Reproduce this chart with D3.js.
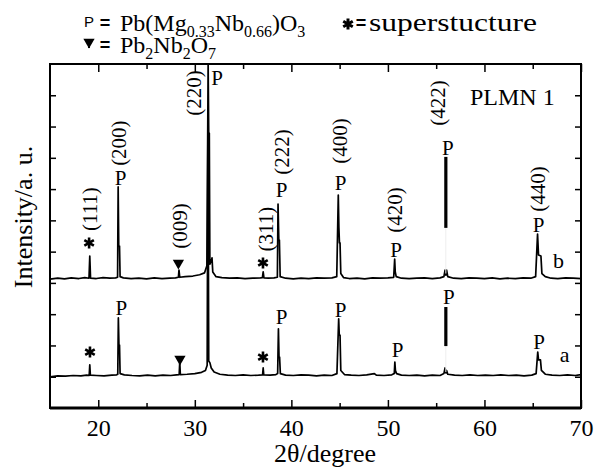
<!DOCTYPE html>
<html>
<head>
<meta charset="utf-8">
<script src="https://cdn.jsdelivr.net/npm/d3@7"></script>
<style>
  body { margin: 0; background: #fff; }
  svg { display: block; }
</style>
</head>
<body>
<svg id="chart"></svg>
<script>
// 2θ range and the arbitrary intensity range of the stacked patterns
const X_DOMAIN = [15, 70];
const Y_DOMAIN = [0, 11];
const X_MAJOR = [20, 30, 40, 50, 60, 70];
const X_MINOR = [25, 35, 45, 55, 65];
const Y_TICKS = [1, 2, 3, 4, 5, 6, 7, 8, 9, 10];

// pattern b (upper), [2θ, intensity]
const traceB = [
  [15.0, 4.12], [15.8, 4.15], [16.5, 4.13], [17.2, 4.16], [18.0, 4.14], [18.6, 4.17],
  [19.04, 4.15], [19.12, 4.86], [19.2, 4.15],
  [19.8, 4.14], [20.5, 4.17], [21.2, 4.15], [21.8, 4.16],
  [22.0, 4.18], [22.06, 7.07], [22.12, 5.18], [22.2, 5.18], [22.26, 4.2],
  [22.6, 4.16], [23.4, 4.14], [24.2, 4.15], [25.0, 4.13], [25.8, 4.16], [26.6, 4.14], [27.4, 4.15], [28.0, 4.16],
  [28.3, 4.18], [28.36, 4.41], [28.44, 4.18],
  [29.0, 4.2], [29.8, 4.22], [30.5, 4.26], [31.0, 4.32], [31.25, 4.55],
  [31.38, 11.0], [31.44, 8.79], [31.5, 8.79], [31.56, 4.6], [31.7, 4.7], [31.78, 4.8], [31.86, 4.35], [32.2, 4.2],
  [32.8, 4.17], [33.6, 4.15], [34.4, 4.16], [35.2, 4.14], [36.0, 4.15], [36.8, 4.16],
  [37.0, 4.17], [37.08, 4.35], [37.16, 4.16],
  [37.6, 4.15], [38.2, 4.16], [38.55, 4.18], [38.62, 6.52], [38.7, 5.37], [38.76, 5.37], [38.84, 4.2],
  [39.4, 4.15], [40.2, 4.13], [41.0, 4.15], [41.8, 4.14], [42.6, 4.16], [43.4, 4.15], [44.2, 4.16], [44.7, 4.2],
  [44.86, 6.81], [44.92, 5.79], [44.98, 5.28], [45.04, 5.28], [45.12, 4.3], [45.4, 4.17],
  [46.0, 4.14], [46.8, 4.15], [47.6, 4.13], [48.4, 4.16], [49.2, 4.15], [50.0, 4.16], [50.6, 4.18],
  [50.7, 4.76], [50.76, 4.35], [50.86, 4.2],
  [51.4, 4.15], [52.2, 4.14], [53.0, 4.15], [53.8, 4.16], [54.6, 4.14], [55.4, 4.16], [55.8, 4.2],
  [55.92, 4.41], [56.0, 4.25], [56.08, 4.41], [56.2, 4.2],
  [56.8, 4.15], [57.6, 4.14], [58.4, 4.16], [59.2, 4.15], [60.0, 4.14], [60.8, 4.16], [61.6, 4.13],
  [62.4, 4.15], [63.2, 4.14], [64.0, 4.16], [64.8, 4.15], [65.3, 4.2],
  [65.5, 5.56], [65.6, 4.89], [65.85, 4.86], [65.95, 4.3], [66.3, 4.2], [66.9, 4.15], [67.6, 4.14],
  [68.4, 4.16], [69.2, 4.15], [70.0, 4.14]
];

// pattern a (lower)
const traceA = [
  [15.0, 1.0], [15.8, 1.03], [16.6, 1.02], [17.4, 1.04], [18.2, 1.03], [18.8, 1.05],
  [19.06, 1.04], [19.12, 1.38], [19.18, 1.05],
  [19.8, 1.04], [20.6, 1.03], [21.4, 1.05], [21.9, 1.06],
  [22.02, 1.08], [22.08, 2.88], [22.14, 2.01], [22.2, 2.01], [22.26, 1.1],
  [22.7, 1.06], [23.5, 1.04], [24.3, 1.03], [25.1, 1.05], [25.9, 1.03], [26.7, 1.05], [27.5, 1.04], [28.1, 1.06],
  [28.38, 1.07], [28.44, 1.47], [28.5, 1.07],
  [29.2, 1.08], [30.0, 1.1], [30.7, 1.14], [31.1, 1.2], [31.28, 1.37],
  [31.36, 9.47], [31.44, 1.5], [31.56, 1.45], [31.7, 1.28], [32.0, 1.15], [32.6, 1.08],
  [33.4, 1.05], [34.2, 1.04], [35.0, 1.06], [35.8, 1.04], [36.6, 1.05],
  [37.02, 1.06], [37.08, 1.28], [37.14, 1.06],
  [37.8, 1.05], [38.4, 1.07], [38.58, 1.1], [38.66, 2.53], [38.72, 1.63], [38.78, 1.63], [38.86, 1.1],
  [39.4, 1.05], [40.2, 1.04], [41.0, 1.06], [41.8, 1.05], [42.6, 1.03], [43.4, 1.05], [44.2, 1.04], [44.72, 1.1],
  [44.9, 2.85], [44.96, 2.33], [45.04, 2.33], [45.12, 1.2], [45.5, 1.07],
  [46.2, 1.05], [47.0, 1.04], [47.8, 1.06], [48.6, 1.1], [48.8, 1.05], [49.6, 1.04], [50.4, 1.06],
  [50.66, 1.1], [50.72, 1.47], [50.78, 1.2], [50.9, 1.1], [51.4, 1.05],
  [52.2, 1.04], [53.0, 1.05], [53.8, 1.03], [54.6, 1.05], [55.4, 1.04], [55.8, 1.1],
  [55.92, 1.28], [56.0, 1.12], [56.08, 1.2], [56.2, 1.08],
  [56.9, 1.05], [57.7, 1.04], [58.5, 1.06], [59.3, 1.04], [60.1, 1.05], [60.9, 1.04], [61.7, 1.06],
  [62.5, 1.04], [63.3, 1.05], [64.1, 1.03], [64.9, 1.05], [65.35, 1.1],
  [65.52, 1.79], [65.6, 1.54], [65.8, 1.54], [65.9, 1.2], [66.3, 1.08], [67.0, 1.05], [67.8, 1.04],
  [68.6, 1.06], [69.4, 1.04], [70.0, 1.07]
];

// the (422) reflection shows up as a solid bar in both patterns: [2θ, top, bottom, baseline]
const bars422 = [
  [56.0, 8.03, 5.76, 4.3],
  [56.0, 3.23, 1.98, 1.15]
];

// annotations, placed in data units
const hklLabels = [
  ['(111)', 19.1, 6.36], ['(200)', 22.1, 8.47], ['(009)', 28.4, 5.82], ['(220)', 29.9, 10.07],
  ['(311)', 37.3, 5.72], ['(222)', 39.0, 8.19], ['(400)', 45.0, 8.54], ['(420)', 50.7, 6.33],
  ['(422)', 55.1, 9.75], ['(440)', 65.55, 7.0]
];
const pLabels = [
  [22.3, 7.36], [32.3, 10.55], [39.0, 6.97], [45.1, 7.2], [50.85, 5.05], [56.2, 8.31], [65.6, 5.85],
  [22.4, 3.2], [39.0, 2.91], [45.1, 3.13], [51.0, 1.85], [56.3, 3.55], [65.65, 2.11]
];
const starMarks = [[19.05, 5.28], [37.06, 4.64], [19.14, 1.79], [37.06, 1.63]];
const triangleMarks = [[28.3, 4.64], [28.46, 1.57]];
const seriesTags = [['b', 67.1, 4.48], ['a', 67.8, 1.47]];

const W = 598, H = 468;
const margin = { top: 64, right: 17, bottom: 60, left: 50 };
const SERIF = '"Liberation Serif", "Times New Roman", serif';
const SANS = '"Liberation Sans", Arial, sans-serif';

const svg = d3.select('#chart').attr('width', W).attr('height', H);

const x = d3.scaleLinear().domain(X_DOMAIN).range([margin.left, W - margin.right]);
const y = d3.scaleLinear().domain(Y_DOMAIN).range([H - margin.bottom, margin.top]);

// ticks, all pointing inward
function styleAxis(a) {
  a.select('.domain').remove();
  a.selectAll('line').attr('stroke', '#000').attr('stroke-width', 1.5);
  a.selectAll('text').attr('font-family', SERIF).attr('font-size', 24).attr('fill', '#000');
}

svg.append('g')
  .attr('transform', `translate(0,${y.range()[0]})`)
  .call(d3.axisBottom(x).tickValues(X_MAJOR).tickSize(-8).tickPadding(11).tickFormat(d3.format('d')))
  .call(styleAxis);
svg.append('g')
  .attr('transform', `translate(0,${y.range()[0]})`)
  .call(d3.axisBottom(x).tickValues(X_MINOR).tickSize(-5).tickFormat(''))
  .call(styleAxis);
svg.append('g')
  .attr('transform', `translate(0,${y.range()[1]})`)
  .call(d3.axisTop(x).tickValues(X_MAJOR).tickSize(-8).tickFormat(''))
  .call(styleAxis);
svg.append('g')
  .attr('transform', `translate(0,${y.range()[1]})`)
  .call(d3.axisTop(x).tickValues(X_MINOR).tickSize(-5).tickFormat(''))
  .call(styleAxis);
svg.append('g')
  .attr('transform', `translate(${x.range()[0]},0)`)
  .call(d3.axisLeft(y).tickValues(Y_TICKS).tickSize(-6).tickFormat(''))
  .call(styleAxis);
svg.append('g')
  .attr('transform', `translate(${x.range()[1]},0)`)
  .call(d3.axisRight(y).tickValues(Y_TICKS).tickSize(-6).tickFormat(''))
  .call(styleAxis);

// traces
const line = d3.line().x((d) => x(d[0])).y((d) => y(d[1]));
[traceA, traceB].forEach((t) => {
  svg.append('path')
    .datum(t)
    .attr('d', line)
    .attr('fill', 'none')
    .attr('stroke', '#000')
    .attr('stroke-width', 1.7)
    .attr('stroke-linejoin', 'round');
});

svg.selectAll('.bar422-faint')
  .data(bars422)
  .join('line')
  .attr('x1', (d) => x(d[0])).attr('x2', (d) => x(d[0]))
  .attr('y1', (d) => y(d[2])).attr('y2', (d) => y(d[3]))
  .attr('stroke', '#eeeeee')
  .attr('stroke-width', 1);
svg.selectAll('.bar422')
  .data(bars422)
  .join('line')
  .attr('x1', (d) => x(d[0])).attr('x2', (d) => x(d[0]))
  .attr('y1', (d) => y(d[1])).attr('y2', (d) => y(d[2]))
  .attr('stroke', '#000')
  .attr('stroke-width', 3.2);

// frame
svg.append('rect')
  .attr('x', x.range()[0]).attr('y', y.range()[1])
  .attr('width', x.range()[1] - x.range()[0])
  .attr('height', y.range()[0] - y.range()[1])
  .attr('fill', 'none').attr('stroke', '#000').attr('stroke-width', 2);
svg.append('line')
  .attr('x1', x.range()[0]).attr('x2', x.range()[1])
  .attr('y1', y.range()[0]).attr('y2', y.range()[0])
  .attr('stroke', '#000').attr('stroke-width', 3);

// peak annotations
svg.selectAll('.hkl')
  .data(hklLabels)
  .join('text')
  .attr('transform', (d) => `translate(${x(d[1])},${y(d[2])}) rotate(-90)`)
  .attr('text-anchor', 'middle')
  .attr('dy', '0.35em')
  .attr('font-family', SERIF).attr('font-size', 21)
  .text((d) => d[0]);

svg.selectAll('.plabel')
  .data(pLabels)
  .join('text')
  .attr('x', (d) => x(d[0])).attr('y', (d) => y(d[1]))
  .attr('text-anchor', 'middle')
  .attr('dy', '0.33em')
  .attr('font-family', SERIF).attr('font-size', 21)
  .text('P');

function starPath(r) {
  const c = r * Math.cos(Math.PI / 6), s = r * Math.sin(Math.PI / 6);
  return `M0,${-r}L0,${r}M${-c},${-s}L${c},${s}M${-c},${s}L${c},${-s}`;
}
svg.selectAll('.star')
  .data(starMarks)
  .join('path')
  .attr('transform', (d) => `translate(${x(d[0])},${y(d[1])})`)
  .attr('d', starPath(5.5))
  .attr('stroke', '#000').attr('stroke-width', 2.6).attr('fill', 'none');

const tri = d3.symbol().type(d3.symbolTriangle).size(55);
svg.selectAll('.tri')
  .data(triangleMarks)
  .join('path')
  .attr('transform', (d) => `translate(${x(d[0])},${y(d[1])}) rotate(180)`)
  .attr('d', tri)
  .attr('fill', '#000');

svg.selectAll('.tag')
  .data(seriesTags)
  .join('text')
  .attr('x', (d) => x(d[1])).attr('y', (d) => y(d[2]))
  .attr('font-family', SERIF).attr('font-size', 22)
  .text((d) => d[0]);

svg.append('text')
  .attr('x', 470).attr('y', 105)
  .attr('font-family', SERIF).attr('font-size', 24)
  .text('PLMN 1');

// axis titles
svg.append('text')
  .attr('x', 325).attr('y', 462)
  .attr('text-anchor', 'middle')
  .attr('font-family', SERIF).attr('font-size', 26)
  .text('2θ/degree');
svg.append('text')
  .attr('transform', 'translate(32,217) rotate(-90)')
  .attr('text-anchor', 'middle')
  .attr('font-family', SERIF).attr('font-size', 26)
  .text('Intensity/a. u.');

// legend
const lg = svg.append('g');
lg.append('text').attr('x', 89).attr('y', 27).attr('text-anchor', 'middle')
  .attr('font-family', SANS).attr('font-size', 15).text('P');
[29, 51].forEach((yy) => {
  lg.append('text').attr('x', 105).attr('y', yy).attr('text-anchor', 'middle')
    .attr('font-family', SANS).attr('font-weight', 'bold').attr('font-size', 18).text('=');
});
lg.append('path').attr('transform', 'translate(89,42) rotate(180)').attr('d', tri).attr('fill', '#000');
lg.append('rect').attr('x', 88).attr('y', 44).attr('width', 2).attr('height', 4).attr('fill', '#000');

function formula(xx, yy, parts) {
  const t = lg.append('text').attr('x', xx).attr('y', yy)
    .attr('font-family', SERIF).attr('font-size', 24);
  let shift = 0;
  parts.forEach(([s, sub]) => {
    const target = sub ? 6 : 0;
    t.append('tspan')
      .attr('font-size', sub ? 16 : 24)
      .attr('dy', target - shift)
      .text(s);
    shift = target;
  });
}
formula(120, 31, [['Pb(Mg'], ['0.33', 1], ['Nb'], ['0.66', 1], [')O'], ['3', 1]]);
formula(120, 53, [['Pb'], ['2', 1], ['Nb'], ['2', 1], ['O'], ['7', 1]]);

lg.append('path').attr('transform', 'translate(348,24)').attr('d', starPath(5.5))
  .attr('stroke', '#000').attr('stroke-width', 3).attr('fill', 'none');
lg.append('text').attr('x', 361).attr('y', 29).attr('text-anchor', 'middle')
  .attr('font-family', SANS).attr('font-weight', 'bold').attr('font-size', 18).text('=');
lg.append('text').attr('x', 369).attr('y', 31)
  .attr('font-family', SERIF).attr('font-size', 25)
  .attr('textLength', 168).attr('lengthAdjust', 'spacingAndGlyphs')
  .text('superstucture');
</script>
</body>
</html>
